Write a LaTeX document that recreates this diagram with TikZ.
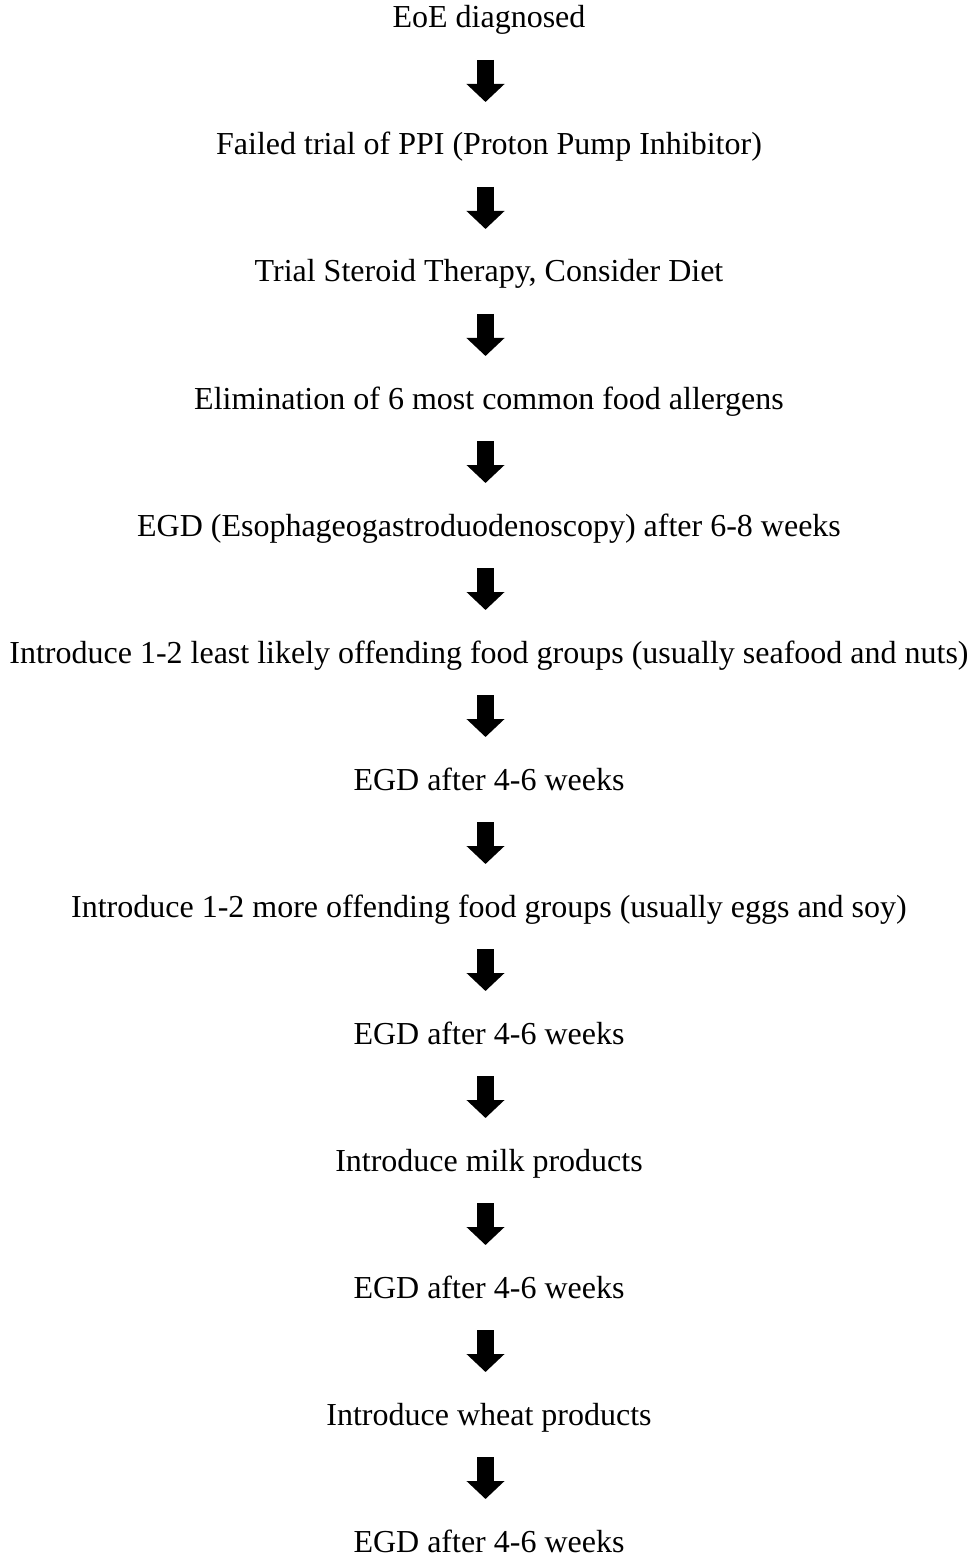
\documentclass[tikz,border=0pt]{standalone}
\usepackage{fontspec}
\setmainfont{Liberation Serif}
\usetikzlibrary{arrows.meta, positioning}

\begin{document}
\begin{tikzpicture}[
  font=\fontsize{16pt}{19pt}\selectfont,
  node distance=48.5pt,
  stage/.style={inner sep=0pt, outer sep=0pt, text height=11.5pt, text depth=3.5pt},
  blockarr/.style={-{Triangle[width=18.5pt, length=9pt]}, line width=8.5pt,
                   shorten <=12.5pt, shorten >=15pt},
]
\useasboundingbox (0,0) rectangle (487.5pt,-778pt);

%% Treatment steps, top to bottom
\node[stage, anchor=base] (s1) at (244.5pt,-14pt) {EoE diagnosed};
\node[stage, below=of s1] (s2) {Failed trial of PPI (Proton Pump Inhibitor)};
\node[stage, below=of s2] (s3) {Trial Steroid Therapy, Consider Diet};
\node[stage, below=of s3] (s4) {Elimination of 6 most common food allergens};
\node[stage, below=of s4] (s5) {EGD (Esophageogastroduodenoscopy) after 6-8 weeks};
\node[stage, below=of s5] (s6) {Introduce 1-2 least likely offending food groups (usually seafood and nuts)};
\node[stage, below=of s6] (s7) {EGD after 4-6 weeks};
\node[stage, below=of s7] (s8) {Introduce 1-2 more offending food groups (usually eggs and soy)};
\node[stage, below=of s8] (s9) {EGD after 4-6 weeks};
\node[stage, below=of s9] (s10) {Introduce milk products};
\node[stage, below=of s10] (s11) {EGD after 4-6 weeks};
\node[stage, below=of s11] (s12) {Introduce wheat products};
\node[stage, below=of s12] (s13) {EGD after 4-6 weeks};

%% Block arrows between steps
\foreach \i [evaluate=\i as \j using int(\i+1)] in {1,...,12}
  \draw[blockarr] ([xshift=-1.75pt]s\i.south) -- ([xshift=-1.75pt]s\j.north);

\end{tikzpicture}
\end{document}
